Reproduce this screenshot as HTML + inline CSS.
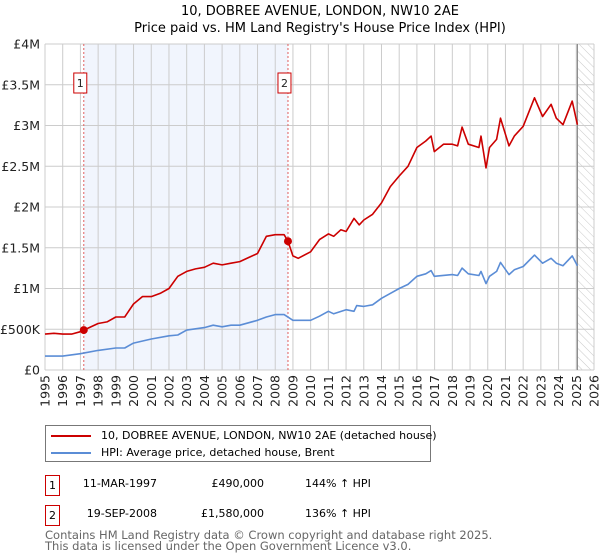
<!DOCTYPE html>
<html><head><meta charset="utf-8"><style>
body{margin:0;background:#fff;font-family:"DejaVu Sans","Liberation Sans",sans-serif;}
#wrap{position:relative;width:600px;height:560px;overflow:hidden;}
#wrap div{white-space:nowrap;}
</style></head><body>
<div id="wrap">
<svg id="chart" width="600" height="560" xmlns="http://www.w3.org/2000/svg" font-family="DejaVu Sans, Liberation Sans, sans-serif">
<defs>
<pattern id="hatch" width="6" height="6" patternUnits="userSpaceOnUse" patternTransform="rotate(-45)">
<line x1="0" y1="0" x2="0" y2="6" stroke="#bbb" stroke-width="0.8"/>
</pattern>
</defs>
<text x="320" y="15" text-anchor="middle" font-size="13" fill="#000">10, DOBREE AVENUE, LONDON, NW10 2AE</text>
<text x="320" y="32" text-anchor="middle" font-size="13" fill="#000">Price paid vs. HM Land Registry's House Price Index (HPI)</text>
<g id="plot"></g>
</svg>
<div style="position:absolute;left:45px;top:425px;width:384px;height:35px;border:1px solid #777;font-size:11px;">
 <div style="position:absolute;left:5px;top:9px;width:40px;height:2px;background:#cc0000"></div>
 <div style="position:absolute;left:55px;top:3px;">10, DOBREE AVENUE, LONDON, NW10 2AE (detached house)</div>
 <div style="position:absolute;left:5px;top:26px;width:40px;height:2px;background:#5b8dd6"></div>
 <div style="position:absolute;left:55px;top:20px;">HPI: Average price, detached house, Brent</div>
</div>
<div style="font-size:11px;">
 <div style="position:absolute;left:45px;top:475px;width:13px;height:19px;border:1px solid #cc0000;text-align:center;line-height:19px;">1</div>
 <div style="position:absolute;right:443px;top:477px;">11-MAR-1997</div>
 <div style="position:absolute;right:336px;top:477px;">£490,000</div>
 <div style="position:absolute;left:305px;top:477px;">144% ↑ HPI</div>
 <div style="position:absolute;left:45px;top:505px;width:13px;height:19px;border:1px solid #cc0000;text-align:center;line-height:19px;">2</div>
 <div style="position:absolute;right:443px;top:507px;">19-SEP-2008</div>
 <div style="position:absolute;right:336px;top:507px;">£1,580,000</div>
 <div style="position:absolute;left:305px;top:507px;">136% ↑ HPI</div>
</div>
<div style="position:absolute;left:45px;top:530px;font-size:11.5px;color:#666;line-height:11px;">Contains HM Land Registry data © Crown copyright and database right 2025.<br>This data is licensed under the Open Government Licence v3.0.</div>
</div>
<script>
const redYears=[1995,1995.5,1996,1996.5,1997,1997.19,1998,1998.5,1999,1999.5,2000,2000.5,2001,2001.5,2002,2002.5,2003,2003.5,2004,2004.5,2005,2005.5,2006,2006.5,2007,2007.5,2008,2008.5,2008.72,2009,2009.3,2010,2010.5,2011,2011.3,2011.7,2012,2012.45,2012.74,2013,2013.5,2014,2014.5,2015,2015.5,2016,2016.5,2016.8,2016.98,2017.5,2018,2018.3,2018.55,2018.9,2019.5,2019.62,2019.9,2020.1,2020.5,2020.72,2021.2,2021.5,2022,2022.64,2023.1,2023.58,2023.87,2024.25,2024.77,2025.06];
const redValues=[0.44,0.45,0.44,0.44,0.47,0.49,0.57,0.59,0.65,0.65,0.81,0.90,0.90,0.94,1.00,1.15,1.21,1.24,1.26,1.31,1.29,1.31,1.33,1.38,1.43,1.64,1.66,1.66,1.58,1.40,1.37,1.45,1.60,1.67,1.64,1.72,1.70,1.86,1.78,1.84,1.91,2.05,2.25,2.38,2.50,2.73,2.81,2.87,2.68,2.77,2.77,2.75,2.98,2.77,2.73,2.87,2.48,2.73,2.83,3.09,2.75,2.87,2.99,3.34,3.11,3.26,3.09,3.01,3.30,3.01];
const hpiYears=[1995,1996,1997,1998,1999,1999.5,2000,2001,2002,2002.5,2003,2004,2004.5,2005,2005.5,2006,2007,2007.5,2008,2008.5,2009,2010,2010.5,2011,2011.3,2012,2012.45,2012.6,2013,2013.5,2014,2014.5,2015,2015.5,2016,2016.5,2016.8,2016.98,2018,2018.3,2018.55,2018.9,2019.5,2019.62,2019.9,2020.1,2020.5,2020.72,2021.2,2021.5,2022,2022.64,2023.1,2023.58,2023.87,2024.25,2024.77,2025.06];
const hpiValues=[0.17,0.17,0.20,0.24,0.27,0.27,0.33,0.38,0.42,0.43,0.49,0.52,0.55,0.53,0.55,0.55,0.61,0.65,0.68,0.68,0.61,0.61,0.66,0.72,0.69,0.74,0.72,0.79,0.78,0.80,0.88,0.94,1.00,1.05,1.15,1.18,1.22,1.15,1.17,1.16,1.25,1.18,1.16,1.21,1.06,1.15,1.21,1.32,1.17,1.23,1.27,1.41,1.31,1.37,1.31,1.28,1.40,1.28];
const saleYears=[1997.19,2008.72];
const saleValues=[0.49,1.58];
const saleLabels=["1","2"];
const yTicks=[0,0.5,1,1.5,2,2.5,3,3.5,4];
const yTickLabels=["£0","£500K","£1M","£1.5M","£2M","£2.5M","£3M","£3.5M","£4M"];
const xTicks=[1995,1996,1997,1998,1999,2000,2001,2002,2003,2004,2005,2006,2007,2008,2009,2010,2011,2012,2013,2014,2015,2016,2017,2018,2019,2020,2021,2022,2023,2024,2025,2026];
const dataEnd=2025.06;

const X0=45,X1=594,Y0=370,Y1=44;
const xs=y=>X0+(y-1995)/(2026-1995)*(X1-X0);
const ys=v=>Y0-v/4*(Y0-Y1);
const NS="http://www.w3.org/2000/svg";
const g=document.getElementById('plot');
function mk(tag,attrs){const e=document.createElementNS(NS,tag);for(const k in attrs)e.setAttribute(k,attrs[k]);g.appendChild(e);return e;}

let r=mk('rect',{x:xs(saleYears[0]),y:Y1,width:xs(saleYears[1])-xs(saleYears[0]),height:Y0-Y1,fill:'#eef2fc',opacity:0.8});


let h=mk('rect',{x:xs(dataEnd),y:Y1,width:X1-xs(dataEnd),height:Y0-Y1,fill:'url(#hatch)'});



yTicks.forEach((v,i)=>{
 let l=mk('line',{x1:X0,x2:X1,y1:ys(v),y2:ys(v),stroke:'#ccc','stroke-width':1});
 
 
 let t=mk('text',{x:X0-5,y:ys(v)+4.5,'text-anchor':'end','font-size':12.5,fill:'#222'});
 t.textContent=yTickLabels[i];
 
 
});
xTicks.forEach(y=>{
 let l=mk('line',{x1:xs(y),x2:xs(y),y1:Y1,y2:Y0,stroke:'#ccc','stroke-width':1});
 
 
 let t=mk('text',{x:0,y:0,'text-anchor':'end','font-size':12.5,fill:'#222',transform:`translate(${xs(y)+4.5},${Y0+5}) rotate(-90)`});
 t.textContent=y;
 
 
});
let el=mk('line',{x1:xs(dataEnd),x2:xs(dataEnd),y1:Y1,y2:Y0,stroke:'#888','stroke-width':1.2});



saleYears.forEach((y,i)=>{
 let l=mk('line',{x1:xs(y),x2:xs(y),y1:Y1,y2:Y0,stroke:'#e06060','stroke-width':1,'stroke-dasharray':'2,2'});
 
 
 let b=mk('rect',{x:xs(y)-10,y:73,width:13,height:20,fill:'#fff',stroke:'#cc0000','stroke-width':1});
 
 
 let t=mk('text',{x:xs(y)-3.5,y:87,'text-anchor':'middle','font-size':11,fill:'#222'});
 t.textContent=saleLabels[i];
 
 
});

const path=(xa,va)=>xa.map((x,i)=>(i?'L':'M')+xs(x).toFixed(1)+','+ys(va[i]).toFixed(1)).join('');
let bl=mk('path',{d:path(hpiYears,hpiValues),fill:'none',stroke:'#5b8dd6','stroke-width':1.6,'stroke-linejoin':'round'});


let rl=mk('path',{d:path(redYears,redValues),fill:'none',stroke:'#cc0000','stroke-width':1.6,'stroke-linejoin':'round'});


saleYears.forEach((y,i)=>{
 let c=mk('circle',{cx:xs(y),cy:ys(saleValues[i]),r:4,fill:'#cc0000'});
 
 
});
</script>
</body></html>
